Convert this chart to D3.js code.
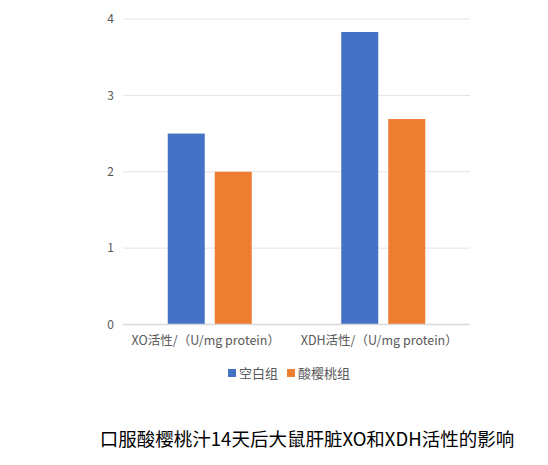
<!DOCTYPE html>
<html>
<head>
<meta charset="utf-8">
<script src="https://cdn.jsdelivr.net/npm/d3@7"></script>
<style>
  body { margin: 0; background: #fff; }
  svg text { font-family: "Noto Sans CJK SC", "Noto Sans", sans-serif; }
</style>
</head>
<body>
<div id="chart"></div>
<script>
// chart values
var categories = ["XO活性/（U/mg protein）", "XDH活性/（U/mg protein）"];
var series_names = ["空白组", "酸樱桃组"];
var blank_values = [2.5, 3.83];
var cherry_values = [2.0, 2.69];
var y_ticks = [0, 1, 2, 3, 4];
var title_text = "口服酸樱桃汁14天后大鼠肝脏XO和XDH活性的影响";

var colors = ["#4472c4", "#ed7d31"];
var W = 548, H = 465;
var plot = { left: 123, right: 470, top: 19, bottom: 324.5 };

var svg = d3.select("div#chart").append("svg").attr("width", W).attr("height", H);

var x0 = d3.scaleBand().domain(categories).range([plot.left, plot.right]);
var x1 = d3.scaleBand().domain(series_names).range([0, 84]).paddingInner(0.213);
var y = d3.scaleLinear().domain([0, 4]).range([plot.bottom, plot.top]);

// gridlines
svg.append("g").selectAll("line").data(y_ticks.filter(function(d) { return d > 0; }))
  .enter().append("line")
  .attr("x1", plot.left).attr("x2", plot.right)
  .attr("y1", function(d) { return y(d); }).attr("y2", function(d) { return y(d); })
  .attr("stroke", "#e4e4e4").attr("stroke-width", 1);

// y axis labels
var y_axis = svg.append("g").attr("transform", "translate(" + (plot.left - 9) + ",0)")
  .call(d3.axisLeft(y).tickValues(y_ticks).tickFormat(d3.format("d")).tickSize(0).tickPadding(0));
y_axis.select(".domain").remove();
y_axis.selectAll("text").attr("fill", "#595959").style("font-size", "12px");

// bars
var rows = categories.map(function(c, i) { return { cat: c, vals: [blank_values[i], cherry_values[i]] }; });
var groups = svg.append("g").selectAll("g").data(rows).enter().append("g")
  .attr("transform", function(d) { return "translate(" + (x0(d.cat) + (x0.bandwidth() - 84) / 2) + ",0)"; });
groups.selectAll("rect").data(function(d) { return d.vals.map(function(v, i) { return { name: series_names[i], v: v, i: i }; }); })
  .enter().append("rect")
  .attr("x", function(d) { return x1(d.name); })
  .attr("width", x1.bandwidth())
  .attr("y", function(d) { return y(d.v); })
  .attr("height", function(d) { return y(0) - y(d.v); })
  .attr("fill", function(d) { return colors[d.i]; });

// baseline
svg.append("line").attr("x1", plot.left).attr("x2", plot.right)
  .attr("y1", y(0)).attr("y2", y(0)).attr("stroke", "#d9d9d9").attr("stroke-width", 1.5);

// category labels
svg.append("g").selectAll("text").data(categories).enter().append("text")
  .attr("x", function(d) { return x0(d) + x0.bandwidth() / 2 - 4; })
  .attr("y", 345)
  .attr("text-anchor", "middle")
  .attr("fill", "#595959").style("font-size", "12.5px")
  .text(function(d) { return d; });

// legend
var legend = svg.append("g");
var legend_x = [228, 287];
series_names.forEach(function(s, i) {
  legend.append("rect").attr("x", legend_x[i]).attr("y", 369).attr("width", 8).attr("height", 8).attr("fill", colors[i]);
  legend.append("text").attr("x", legend_x[i] + 11).attr("y", 377.5)
    .attr("fill", "#595959").style("font-size", "13px").text(s);
});

// title
svg.append("text").attr("x", 307).attr("y", 446).attr("text-anchor", "middle")
  .attr("fill", "#000").style("font-size", "18.5px").text(title_text);
</script>
</body>
</html>
